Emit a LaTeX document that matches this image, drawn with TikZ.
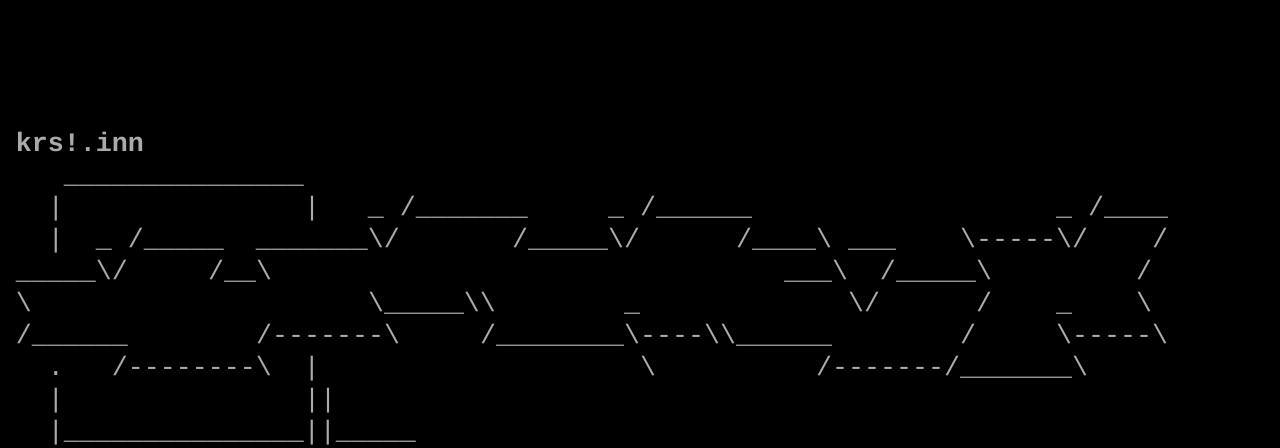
\documentclass[tikz,border=0pt]{standalone}
\usepackage{fontspec}
\setmonofont{Liberation Mono}
\usepackage{tikz}
\definecolor{termgray}{RGB}{170,170,170}
\newlength{\cellw}
\setlength{\cellw}{8pt}
\newcommand{\gap}[1]{\hspace*{#1\cellw}}
\newcommand{\bsl}{\textbackslash}
\ExplSyntaxOn
\newcommand{\rep}[2]{\prg_replicate:nn{#1}{#2}}
\ExplSyntaxOff
\tikzset{
  artline/.style={anchor=base west, inner sep=0pt, outer sep=0pt, text=termgray,
    font=\ttfamily\fontsize{13.333pt}{16pt}\selectfont},
  titleline/.style={artline, font=\ttfamily\bfseries\fontsize{13.333pt}{16pt}\selectfont}
}

\begin{document}
\begin{tikzpicture}[x=8pt, y=16pt]
    \fill[black] (0,0) rectangle (80,-14);
    \useasboundingbox (0,0) rectangle (80,-14);

    \node[titleline] (title) at (0,-4.75) {\gap{1}krs!.inn};

    \node[artline] (row1) at (0,-5.75) {\gap{4}\rep{15}{\_}};
    \node[artline] (row2) at (0,-6.75) {\gap{3}|\gap{15}|\gap{3}\_\gap{1}/\rep{7}{\_}\gap{5}\_\gap{1}/\rep{6}{\_}\gap{19}\_\gap{1}/\rep{4}{\_}};
    \node[artline] (row3) at (0,-7.75) {\gap{3}|\gap{2}\_\gap{1}/\rep{5}{\_}\gap{2}\rep{7}{\_}\bsl/\gap{7}/\rep{5}{\_}\bsl/\gap{6}/\rep{4}{\_}\bsl\gap{1}\rep{3}{\_}\gap{4}\bsl\rep{5}{-}\bsl/\gap{4}/};
    \node[artline] (row4) at (0,-8.75) {\gap{1}\rep{5}{\_}\bsl/\gap{5}/\rep{2}{\_}\bsl\gap{32}\rep{3}{\_}\bsl\gap{2}/\rep{5}{\_}\bsl\gap{9}/};
    \node[artline] (row5) at (0,-9.75) {\gap{1}\bsl\gap{21}\bsl\rep{5}{\_}\bsl\bsl\gap{8}\_\gap{13}\bsl/\gap{6}/\gap{4}\_\gap{4}\bsl};
    \node[artline] (row6) at (0,-10.75) {\gap{1}/\rep{6}{\_}\gap{8}/\rep{7}{-}\bsl\gap{5}/\rep{8}{\_}\bsl\rep{4}{-}\bsl\bsl\rep{6}{\_}\gap{8}/\gap{5}\bsl\rep{5}{-}\bsl};
    \node[artline] (row7) at (0,-11.75) {\gap{3}.\gap{3}/\rep{8}{-}\bsl\gap{2}|\gap{20}\bsl\gap{10}/\rep{7}{-}/\rep{7}{\_}\bsl};
    \node[artline] (row8) at (0,-12.75) {\gap{3}|\gap{15}||};
    \node[artline] (row9) at (0,-13.75) {\gap{3}|\rep{15}{\_}||\rep{5}{\_}};
\end{tikzpicture}
\end{document}
